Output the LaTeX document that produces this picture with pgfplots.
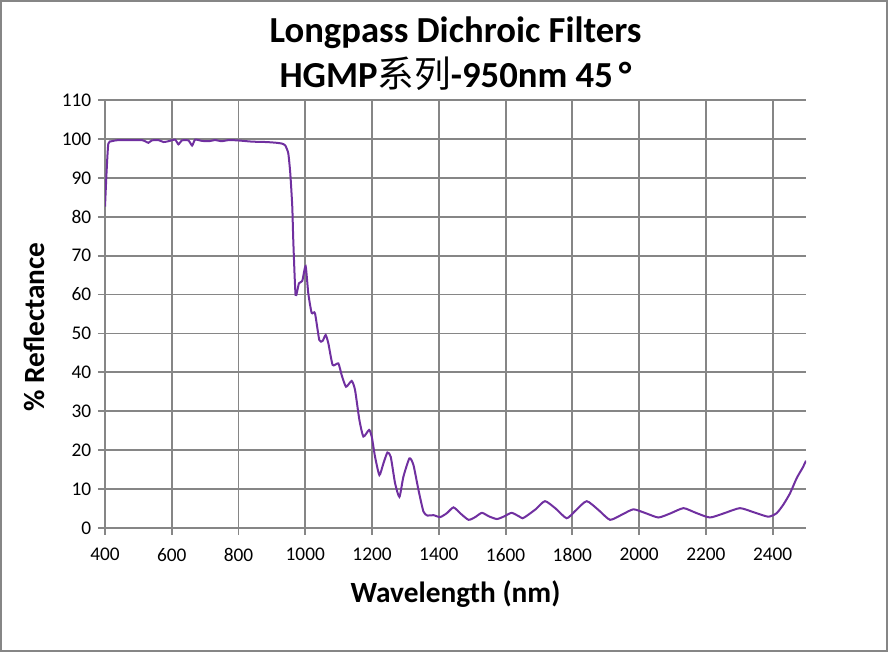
\documentclass[border=0pt]{standalone}
\usepackage{pgfplots}
\pgfplotsset{compat=1.18}
\usepackage{fontspec}
\setmainfont{Carlito}
\newfontfamily\cjk{Noto Sans CJK SC}
\definecolor{curve}{RGB}{112,48,160}
\definecolor{gridc}{RGB}{134,134,134}
\pgfplotstableread{
x y
400 82.6
405 92
410 98.8
420 99.4
440 99.7
480 99.7
510 99.7
520 99.4
530 99.0
540 99.6
560 99.7
575 99.2
590 99.4
610 99.8
620 98.6
630 99.6
650 99.6
661 98.3
670 99.8
690 99.5
710 99.4
730 99.7
750 99.4
770 99.7
800 99.6
840 99.3
880 99.2
900 99.1
914 99.0
930 98.8
940 98.3
949 96.3
955 91.2
961 82.6
964 74
971 59.9
981 62.9
991 63.5
1001 67.3
1009 60.3
1019 55.3
1029 55.2
1042 48.3
1052 48.1
1061 49.6
1069 47.5
1082 41.9
1099 42.3
1109 39.3
1122 36.3
1139 37.8
1149 35.5
1162 27.8
1174 23.5
1191 25.2
1199 23.5
1209 18.3
1222 13.6
1234 16.6
1246 19.4
1256 18.3
1269 11.5
1282 8.0
1294 13.2
1312 17.9
1324 16.2
1339 9.8
1354 4.2
1366 3.2
1384 3.3
1404 2.8
1424 3.8
1444 5.3
1464 3.8
1489 2.1
1509 2.8
1529 3.9
1550 3.0
1574 2.3
1596 3.0
1618 3.9
1640 3.0
1651 2.5
1663 3.1
1690 4.8
1718 6.9
1750 5.0
1783 2.5
1810 4.5
1843 6.9
1880 4.5
1913 2.1
1950 3.5
1983 4.8
2020 3.8
2058 2.7
2095 3.8
2133 5.1
2170 3.9
2212 2.7
2255 3.8
2302 5.1
2345 4.0
2387 2.9
2412 3.8
2432 6.0
2452 8.9
2472 12.8
2490 15.5
2500 17.3
}\datatable
\begin{document}
\begin{tikzpicture}
\useasboundingbox (0,0) rectangle (666pt,489pt);
\draw[gridc, line width=1.5pt] (0.75pt,0.75pt) rectangle (665.25pt,488.25pt);
\begin{axis}[
  at={(78.75pt,93pt)}, anchor=south west,
  scale only axis, width=525.75pt, height=321pt,
  xmin=400, xmax=2500, ymin=0, ymax=110,
  xtick={400,600,...,2400}, ytick={0,10,...,110},
  axis lines*=left,
  grid=major,
  major grid style={gridc, line width=1.4pt},
  axis line style={gridc, line width=1.4pt},
  tick style={gridc, line width=1.4pt},
  tick align=outside, major tick length=5.25pt,
  ticklabel style={font=\fontsize{14.5}{16}\selectfont, text=black},
  xticklabel style={yshift=-6.5pt},
  yticklabel style={xshift=-1.5pt},
  /pgf/number format/assume math mode=true,
  /pgf/number format/1000 sep={},
  xlabel={Wavelength (nm)},
  ylabel={\% Reflectance},
  label style={font=\fontsize{22}{24}\selectfont\bfseries},
  xlabel style={at={(axis description cs:0.5,-0.1752)}, anchor=base},
  ylabel style={at={(axis description cs:-0.1013,0.4696)}, anchor=center},
  title={Longpass Dichroic Filters\\HGMP{\cjk\mdseries 系列}-950nm 45\thinspace°},
  title style={font=\fontsize{27.5}{33.5}\selectfont\bfseries, align=center, at={(axis description cs:0.5,1)}, anchor=south, yshift=-2.5pt},
]
\addplot[curve, line width=1.5pt, smooth, tension=0.35] table[x=x,y=y] {\datatable};
\end{axis}
\end{tikzpicture}
\end{document}
